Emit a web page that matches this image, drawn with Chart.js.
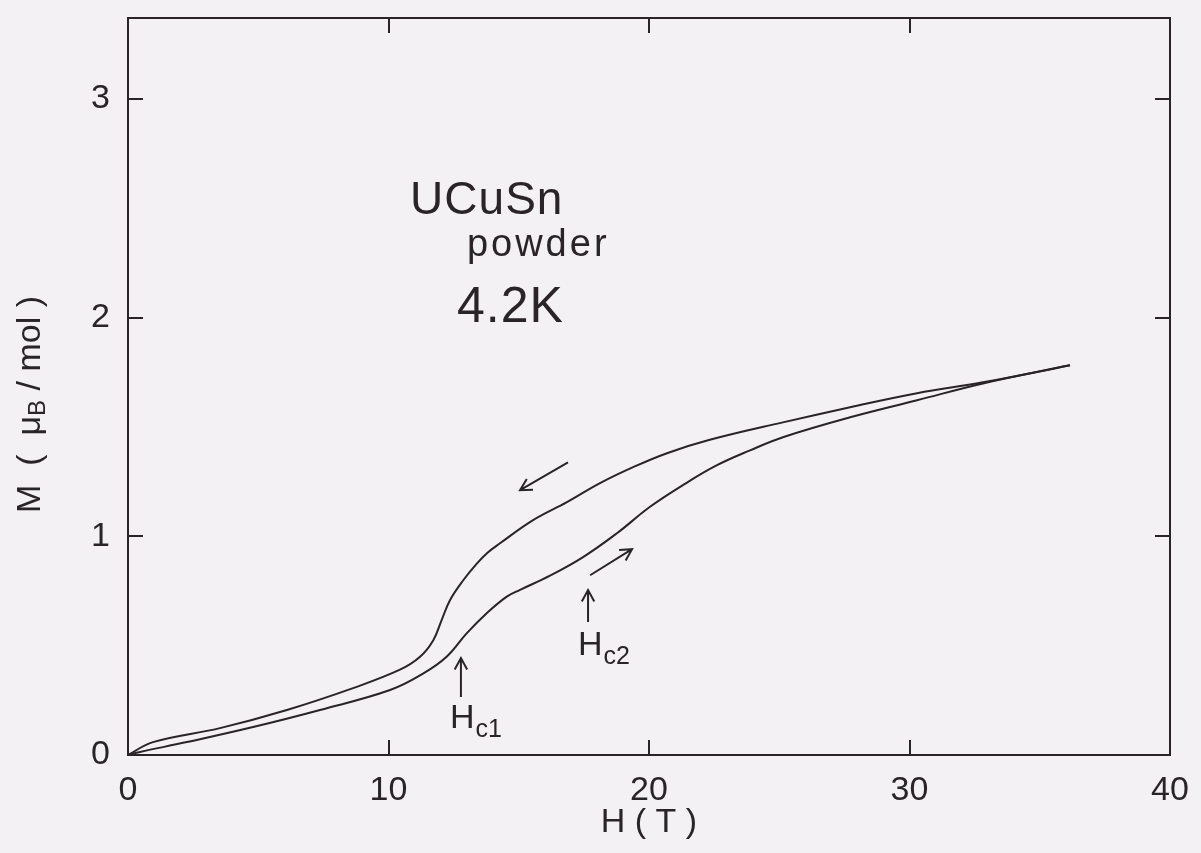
<!DOCTYPE html>
<html>
<head>
<meta charset="utf-8">
<script src="https://cdn.jsdelivr.net/npm/chart.js@4.4.1/dist/chart.umd.min.js"></script>
<style>
    html, body { margin: 0; padding: 0; background: #f3f1f3; }
    canvas { display: block; }
</style>
</head>
<body>
<canvas id="mag-chart" width="1201" height="853"></canvas>
<script>
(function () {
    "use strict";

    // lower branch: field going up
    const upField = [0, 0.46, 2.26, 4.8, 7.37, 10.06, 11.34, 12.23, 13.0, 13.77, 14.54, 15.05, 16.2, 17.47, 18.77, 20.04, 21.3, 22.61, 23.88, 25.14, 27.72, 30.29, 32.82, 36.16];
    const upMoment = [0, 0.014, 0.059, 0.128, 0.206, 0.297, 0.373, 0.449, 0.556, 0.648, 0.724, 0.755, 0.82, 0.905, 1.014, 1.135, 1.234, 1.325, 1.393, 1.453, 1.544, 1.622, 1.699, 1.782];

    // upper branch: field coming down
    const downField = [0, 0.96, 3.53, 6.1, 8.64, 10.44, 11.21, 11.72, 12.04, 12.36, 12.87, 13.39, 13.8, 14.28, 15.55, 16.85, 18.12, 19.39, 20.69, 22.3, 25.14, 27.72, 30.29, 32.82, 36.16];
    const downMoment = [0, 0.059, 0.123, 0.206, 0.306, 0.39, 0.449, 0.525, 0.617, 0.708, 0.799, 0.875, 0.925, 0.968, 1.074, 1.156, 1.243, 1.316, 1.38, 1.44, 1.521, 1.59, 1.654, 1.704, 1.782];

    const xTicks = [0, 10, 20, 30, 40];
    const yTicks = [0, 1, 2, 3];

    const ink = "#2a2427";
    const font = "'Liberation Sans', Arial, sans-serif";

    // text and arrows on the plot, anchored in data units
    const notes = [
        { text: "UCuSn", x: 10.83, y: 2.476, size: 46, spacing: 1 },
        { text: "powder", x: 13.01, y: 2.284, size: 38, spacing: 3 },
        { text: "4.2K", x: 12.63, y: 1.978, size: 50, spacing: 1 },
    ];
    const critLabels = [
        { main: "H", sub: "c1", x: 12.36, y: 0.123 },
        { main: "H", sub: "c2", x: 17.27, y: 0.457 },
    ];
    const arrows = [
        [16.89, 1.338, 15.05, 1.211],
        [17.74, 0.822, 19.35, 0.941],
        [17.66, 0.608, 17.66, 0.754],
        [12.78, 0.265, 12.78, 0.443],
    ];

    const toPoints = (xs, ys) => xs.map((x, i) => ({ x: x, y: ys[i] }));

    const background = {
        id: "background",
        beforeDraw(chart) {
            const ctx = chart.ctx;
            ctx.save();
            ctx.fillStyle = "#f3f1f3";
            ctx.fillRect(0, 0, chart.width, chart.height);
            ctx.restore();
        },
    };

    const annotations = {
        id: "annotations",
        afterDatasetsDraw(chart) {
            const ctx = chart.ctx;
            const sx = chart.scales.x;
            const sy = chart.scales.y;
            ctx.save();
            ctx.fillStyle = ink;
            ctx.strokeStyle = ink;
            ctx.textBaseline = "alphabetic";
            ctx.textAlign = "left";

            notes.forEach((n) => {
                ctx.font = n.size + "px " + font;
                ctx.letterSpacing = n.spacing + "px";
                ctx.fillText(n.text, sx.getPixelForValue(n.x), sy.getPixelForValue(n.y));
            });
            ctx.letterSpacing = "0px";

            critLabels.forEach((c) => {
                const px = sx.getPixelForValue(c.x);
                const py = sy.getPixelForValue(c.y);
                ctx.font = "34px " + font;
                ctx.fillText(c.main, px, py);
                const w = ctx.measureText(c.main).width;
                ctx.font = "25px " + font;
                ctx.fillText(c.sub, px + w + 1, py + 9);
            });

            ctx.lineWidth = 2;
            arrows.forEach((a) => {
                const x1 = sx.getPixelForValue(a[0]);
                const y1 = sy.getPixelForValue(a[1]);
                const x2 = sx.getPixelForValue(a[2]);
                const y2 = sy.getPixelForValue(a[3]);
                const ang = Math.atan2(y2 - y1, x2 - x1);
                const len = 13;
                ctx.beginPath();
                ctx.moveTo(x1, y1);
                ctx.lineTo(x2, y2);
                ctx.moveTo(x2 - len * Math.cos(ang - 0.5), y2 - len * Math.sin(ang - 0.5));
                ctx.lineTo(x2, y2);
                ctx.lineTo(x2 - len * Math.cos(ang + 0.5), y2 - len * Math.sin(ang + 0.5));
                ctx.stroke();
            });

            // y axis title with subscript B
            const yMid = (chart.chartArea.top + chart.chartArea.bottom) / 2 + 18;
            ctx.translate(31, yMid);
            ctx.rotate(-Math.PI / 2);
            const parts = [
                { t: "M  (  \u03bc", size: 34, dy: 0 },
                { t: "B", size: 24, dy: 7 },
                { t: " / mol )", size: 34, dy: 0 },
            ];
            let total = 0;
            parts.forEach((p) => {
                ctx.font = p.size + "px " + font;
                p.w = ctx.measureText(p.t).width;
                total += p.w;
            });
            let cx = -total / 2;
            ctx.textBaseline = "middle";
            parts.forEach((p) => {
                ctx.font = p.size + "px " + font;
                ctx.fillText(p.t, cx, p.dy);
                cx += p.w;
            });
            ctx.restore();
        },
    };

    const tickFont = { family: font, size: 34 };
    const frameGrid = {
        drawOnChartArea: false,
        drawTicks: true,
        tickLength: -15,
        color: ink,
        lineWidth: 2,
    };
    const frameBorder = { display: true, color: ink, width: 2 };
    const setTicks = (values) => (scale) => {
        scale.ticks = values.map((v) => ({ value: v }));
    };
    // fixed box sizes, no label overhang padding
    const fixBox = (prop, size) => (s) => {
        s[prop] = size;
        s.paddingTop = 0;
        s.paddingBottom = 0;
        s.paddingLeft = 0;
        s.paddingRight = 0;
    };

    new Chart(document.getElementById("mag-chart"), {
        type: "line",
        data: {
            datasets: [
                {
                    label: "field up",
                    data: toPoints(upField, upMoment),
                    borderColor: ink,
                    borderWidth: 2,
                    pointRadius: 0,
                    tension: 0.4,
                    fill: false,
                },
                {
                    label: "field down",
                    data: toPoints(downField, downMoment),
                    borderColor: ink,
                    borderWidth: 2,
                    pointRadius: 0,
                    tension: 0.4,
                    fill: false,
                },
            ],
        },
        options: {
            responsive: false,
            animation: false,
            layout: { padding: 0 },
            plugins: {
                legend: { display: false },
                tooltip: { enabled: false },
            },
            scales: {
                x: {
                    type: "linear",
                    position: "bottom",
                    min: 0,
                    max: 40,
                    afterBuildTicks: setTicks(xTicks),
                    afterFit: fixBox("height", 98),
                    grid: frameGrid,
                    border: frameBorder,
                    ticks: { font: tickFont, color: ink, padding: 30, maxRotation: 0 },
                    title: {
                        display: true,
                        text: "H ( T )",
                        font: { family: font, size: 34 },
                        color: ink,
                        padding: { top: 0, bottom: 10 },
                    },
                },
                xTop: {
                    type: "linear",
                    position: "top",
                    min: 0,
                    max: 40,
                    afterBuildTicks: setTicks(xTicks),
                    afterFit: fixBox("height", 18),
                    grid: frameGrid,
                    border: frameBorder,
                    ticks: { display: false },
                },
                y: {
                    type: "linear",
                    position: "left",
                    min: 0,
                    max: 3.37,
                    afterBuildTicks: setTicks(yTicks),
                    afterFit: fixBox("width", 128),
                    grid: frameGrid,
                    border: frameBorder,
                    ticks: { font: tickFont, color: ink, padding: 33 },
                },
                yRight: {
                    type: "linear",
                    position: "right",
                    min: 0,
                    max: 3.37,
                    afterBuildTicks: setTicks(yTicks),
                    afterFit: fixBox("width", 31),
                    grid: frameGrid,
                    border: frameBorder,
                    ticks: { display: false },
                },
            },
        },
        plugins: [background, annotations],
    });
})();
</script>
</body>
</html>
